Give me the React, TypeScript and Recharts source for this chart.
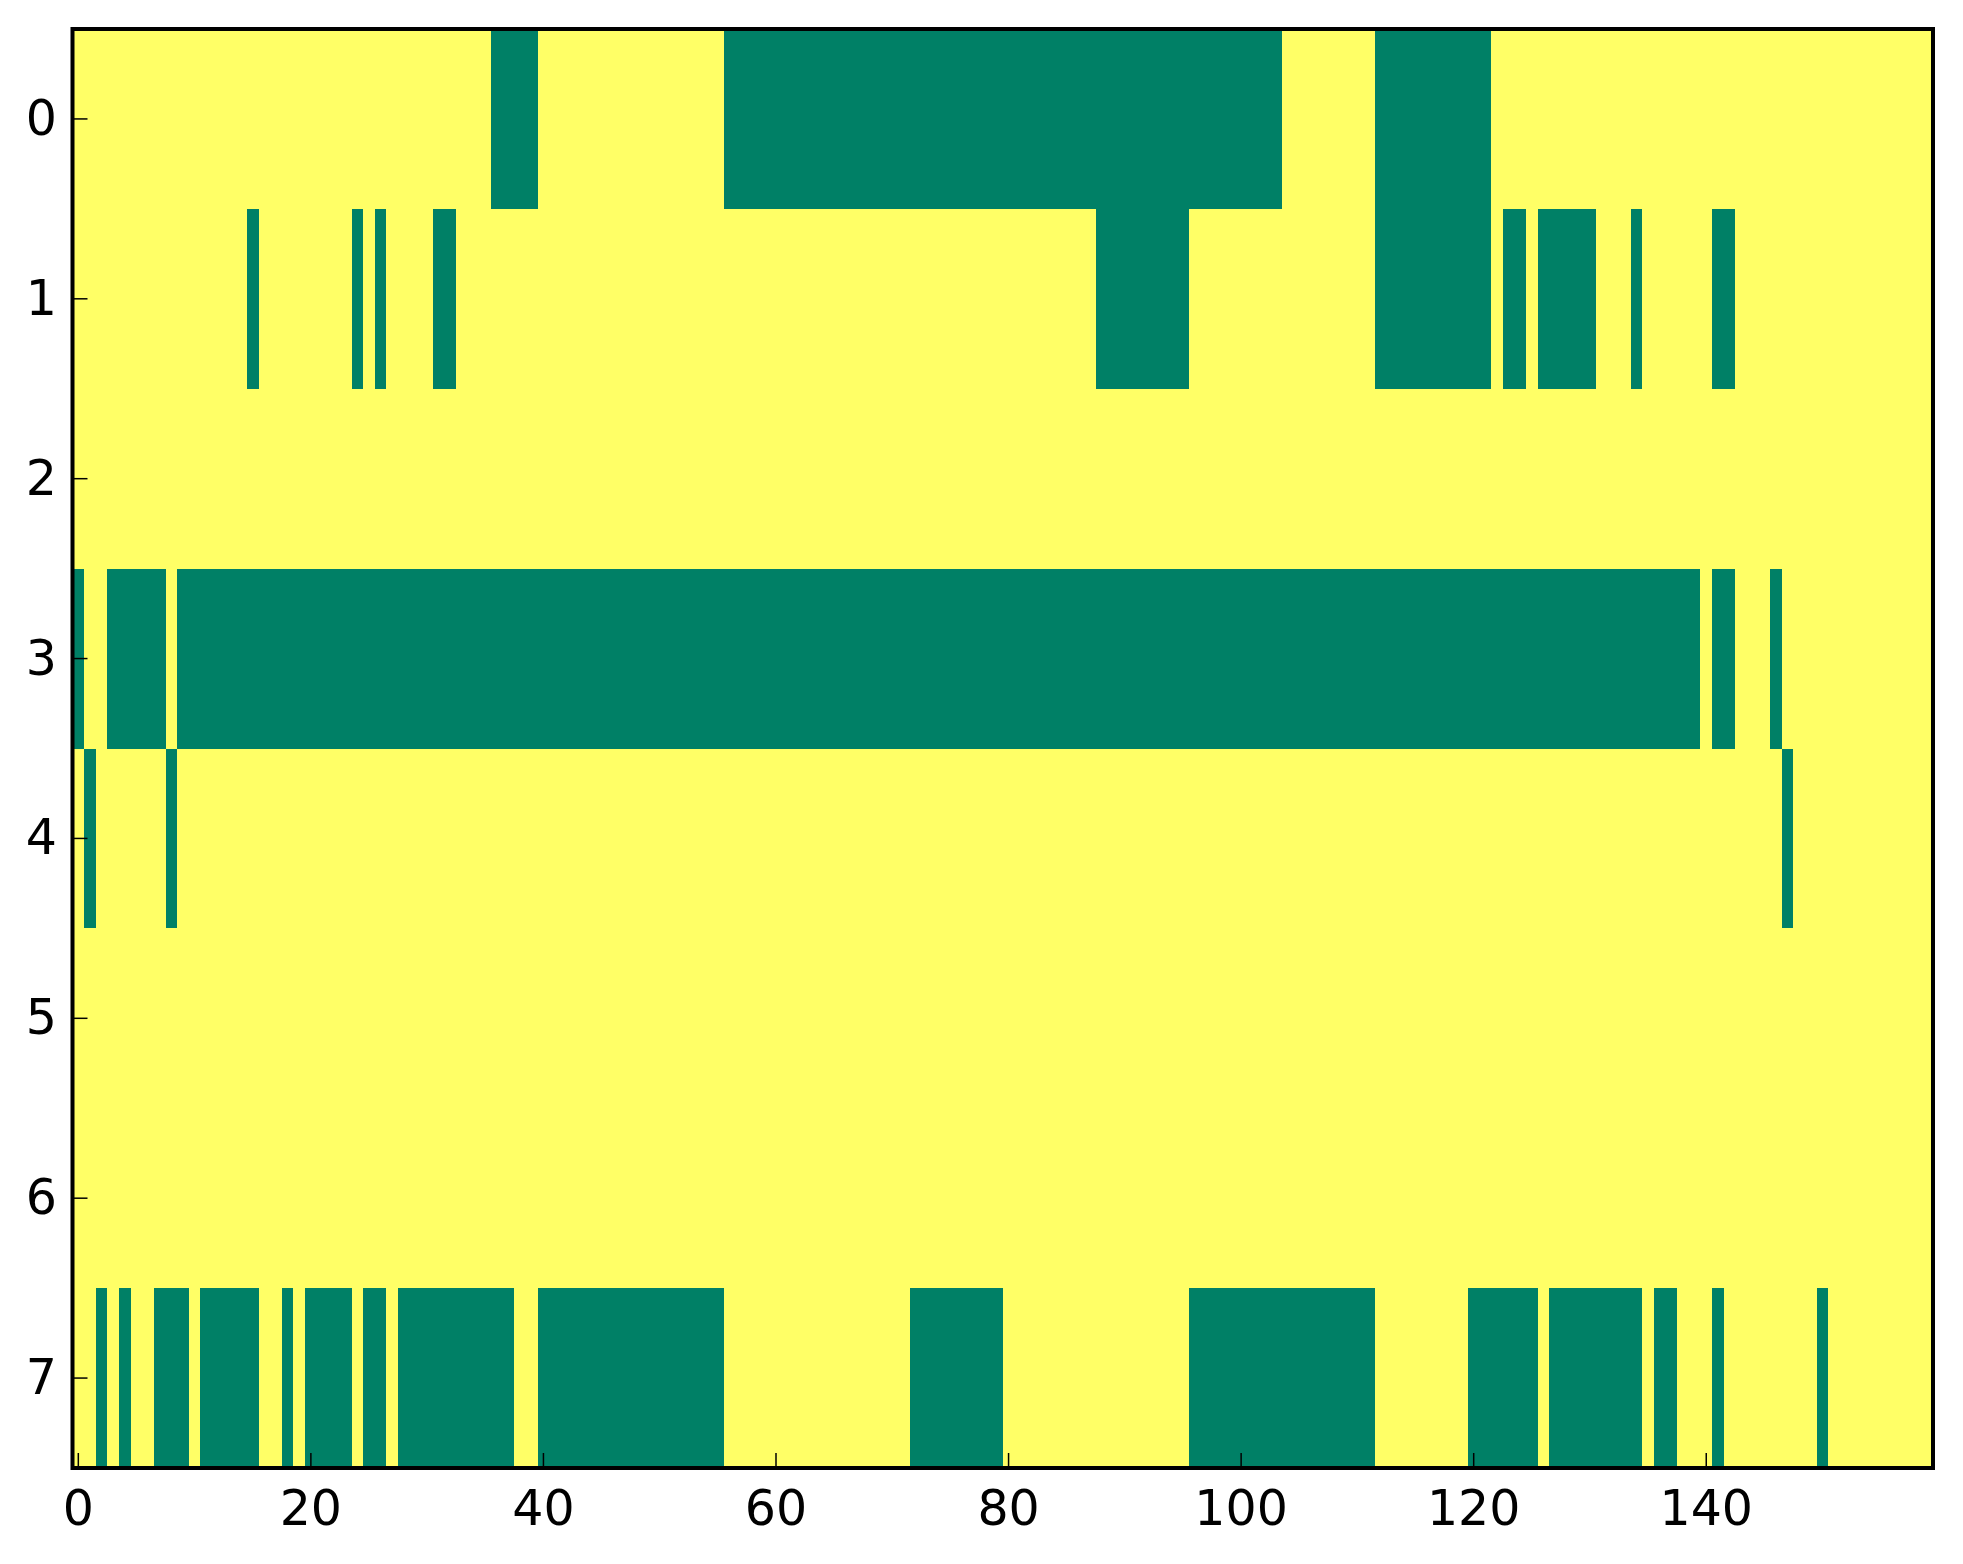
import { ComposedChart, XAxis, YAxis, ReferenceArea } from "recharts";

// 8 x 160 binary matrix, shown as image. Green cells listed as runs [first, last] per row.
const rowLabels = [0, 1, 2, 3, 4, 5, 6, 7];
const xTicks = [0, 20, 40, 60, 80, 100, 120, 140];
const colCount = 160;

const row0 = [[36, 39], [56, 103], [112, 121]];
const row1 = [[15, 15], [24, 24], [26, 26], [31, 32], [88, 95], [112, 121], [123, 124], [126, 130], [134, 134], [141, 142]];
const row2: number[][] = [];
const row3 = [[0, 0], [3, 7], [9, 139], [141, 142], [146, 146]];
const row4 = [[1, 1], [8, 8], [147, 147]];
const row5: number[][] = [];
const row6: number[][] = [];
const row7 = [[2, 2], [4, 4], [7, 9], [11, 15], [18, 18], [20, 23], [25, 26], [28, 37], [40, 55], [72, 79], [96, 111], [120, 125], [127, 134], [136, 137], [141, 141], [150, 150]];

const greenRuns = [row0, row1, row2, row3, row4, row5, row6, row7];

const YELLOW = "#FFFF66";
const GREEN = "#008066";
const FONT = "DejaVu Sans";
const TICK = 15;

const xDomain = [-0.5, colCount - 0.5];
const yDomain = [-0.5, rowLabels.length - 0.5];

function BottomTick({ x, y, payload }: any) {
  return (
    <g>
      <line x1={x} x2={x} y1={y} y2={y - TICK} stroke="#000" strokeWidth={1.5} />
      <text x={x} y={y + 57} textAnchor="middle" fontSize={49} fontFamily={FONT} fill="#000">
        {payload.value}
      </text>
    </g>
  );
}

function LeftTick({ x, y, payload }: any) {
  return (
    <g>
      <line x1={x} x2={x + TICK} y1={y} y2={y} stroke="#000" strokeWidth={1.5} />
      <text x={x - 15.5} y={y + 16} textAnchor="end" fontSize={49} fontFamily={FONT} fill="#000">
        {payload.value}
      </text>
    </g>
  );
}

function TopTick({ x, y }: any) {
  return <line x1={x} x2={x} y1={y} y2={y + TICK} stroke="#000" strokeWidth={1.5} />;
}

function RightTick({ x, y }: any) {
  return <line x1={x} x2={x - TICK} y1={y} y2={y} stroke="#000" strokeWidth={1.5} />;
}

export default function App() {
  return (
    <div style={{ position: "absolute", left: 0, top: 0, background: "#fff" }}>
      <ComposedChart width={1963} height={1564} margin={{ top: 29, right: 30, bottom: 0, left: 0 }}>
        <XAxis
          xAxisId={0}
          type="number"
          dataKey="x"
          domain={xDomain}
          ticks={xTicks}
          allowDataOverflow
          interval={0}
          height={96}
          tickSize={0}
          tickMargin={0}
          tickLine={false}
          axisLine={false}
          tick={<BottomTick />}
        />
        <XAxis
          xAxisId="top"
          orientation="top"
          type="number"
          domain={xDomain}
          ticks={xTicks}
          allowDataOverflow
          interval={0}
          height={0}
          tickSize={0}
          tickMargin={0}
          tickLine={false}
          axisLine={false}
          tick={<TopTick />}
        />
        <YAxis
          yAxisId={0}
          type="number"
          domain={yDomain}
          ticks={rowLabels}
          reversed
          allowDataOverflow
          interval={0}
          width={72.5}
          tickSize={0}
          tickMargin={0}
          tickLine={false}
          axisLine={false}
          tick={<LeftTick />}
        />
        <YAxis
          yAxisId="right"
          orientation="right"
          type="number"
          domain={yDomain}
          ticks={rowLabels}
          reversed
          allowDataOverflow
          interval={0}
          width={0}
          tickSize={0}
          tickMargin={0}
          tickLine={false}
          axisLine={false}
          tick={<RightTick />}
        />
        <ReferenceArea
          xAxisId={0}
          yAxisId={0}
          x1={xDomain[0]}
          x2={xDomain[1]}
          y1={yDomain[0]}
          y2={yDomain[1]}
          fill={YELLOW}
          fillOpacity={1}
          stroke="none"
        />
        {greenRuns.map((runs, row) =>
          runs.map(([a, b]) => (
            <ReferenceArea
              key={`${row}-${a}`}
              xAxisId={0}
              yAxisId={0}
              x1={a - 0.5}
              x2={b + 0.5}
              y1={rowLabels[row] - 0.5}
              y2={rowLabels[row] + 0.5}
              fill={GREEN}
              fillOpacity={1}
              stroke="none"
              shapeRendering="crispEdges"
            />
          ))
        )}
        <ReferenceArea
          xAxisId={0}
          yAxisId={0}
          x1={xDomain[0]}
          x2={xDomain[1]}
          y1={yDomain[0]}
          y2={yDomain[1]}
          fill="none"
          stroke="#000"
          strokeWidth={4}
          strokeOpacity={1}
        />
      </ComposedChart>
    </div>
  );
}
